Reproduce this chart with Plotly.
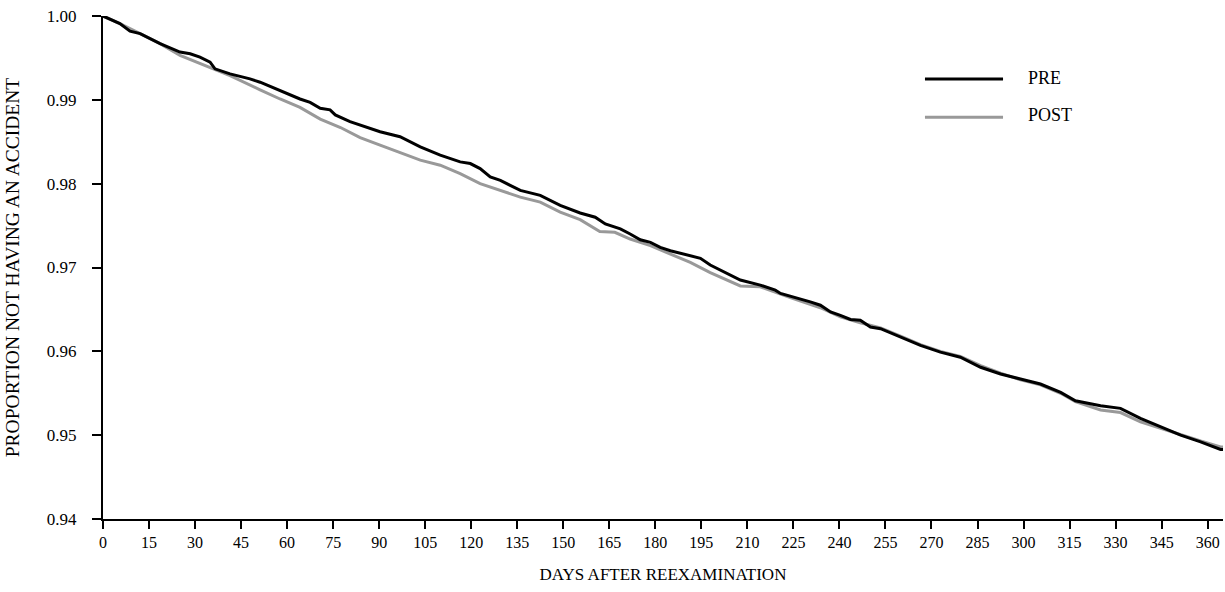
import plotly.graph_objects as go

# ---- data ----
pre_days = [0, 5.5, 8.8, 12.1, 18.6, 25.1, 28.4, 31.6, 34.9, 36.5, 41.4, 47.9, 51.2, 57.7,
            64.2, 67.5, 70.8, 74.0, 75.7, 80.5, 83.8, 87.1, 90.3, 96.8, 100.1, 103.4, 109.9,
            116.4, 119.7, 122.9, 126.2, 129.5, 132.7, 136.0, 142.5, 145.8, 149.0, 155.5,
            160.4, 163.7, 168.6, 171.8, 175.1, 178.4, 181.6, 184.9, 188.1, 194.7, 197.9,
            201.2, 207.7, 214.2, 219.1, 220.8, 224.0, 230.5, 233.8, 237.1, 240.3, 243.6,
            246.8, 250.1, 253.4, 256.6, 259.9, 266.4, 272.9, 279.4, 286.0, 292.5, 299.0,
            305.5, 312.1, 316.9, 325.1, 331.6, 338.1, 344.7, 351.2, 357.7, 364.2, 365.0]
pre_vals = [1.0000, 0.9991, 0.9982, 0.9979, 0.9967, 0.9957, 0.9955, 0.9951, 0.9945, 0.9937,
            0.9931, 0.9925, 0.9921, 0.9911, 0.9901, 0.9897, 0.9890, 0.9888, 0.9882, 0.9874,
            0.9870, 0.9866, 0.9862, 0.9856, 0.9850, 0.9844, 0.9834, 0.9826, 0.9824, 0.9818,
            0.9808, 0.9804, 0.9798, 0.9792, 0.9786, 0.9780, 0.9774, 0.9765, 0.9760, 0.9752,
            0.9746, 0.9740, 0.9733, 0.9730, 0.9724, 0.9720, 0.9717, 0.9711, 0.9703, 0.9697,
            0.9685, 0.9679, 0.9673, 0.9669, 0.9666, 0.9659, 0.9655, 0.9647, 0.9643, 0.9638,
            0.9637, 0.9629, 0.9627, 0.9622, 0.9617, 0.9607, 0.9599, 0.9593, 0.9581, 0.9573,
            0.9567, 0.9561, 0.9551, 0.9541, 0.9535, 0.9532, 0.9520, 0.9510, 0.9500, 0.9492,
            0.9483, 0.9483]

post_days = [0, 5.5, 12.1, 18.6, 25.1, 34.9, 41.4, 51.2, 57.7, 64.2, 70.8, 77.4, 83.8, 90.3,
             96.8, 103.4, 109.9, 116.4, 122.9, 129.5, 136.0, 142.5, 149.0, 155.5, 161.9,
             166.8, 171.8, 178.4, 184.9, 191.4, 197.9, 207.7, 214.2, 224.0, 233.8, 240.3,
             246.8, 253.4, 259.9, 266.4, 272.9, 279.4, 286.0, 292.5, 299.0, 305.5, 312.1,
             316.9, 325.1, 331.6, 338.1, 344.7, 351.2, 357.7, 364.2, 365.0]
post_vals = [1.0000, 0.9991, 0.9979, 0.9967, 0.9953, 0.9939, 0.9929, 0.9912, 0.9901, 0.9891,
             0.9877, 0.9867, 0.9855, 0.9846, 0.9837, 0.9828, 0.9822, 0.9812, 0.9800, 0.9792,
             0.9784, 0.9778, 0.9766, 0.9757, 0.9743, 0.9742, 0.9734, 0.9726, 0.9716, 0.9706,
             0.9694, 0.9678, 0.9677, 0.9664, 0.9652, 0.9641, 0.9634, 0.9628, 0.9618, 0.9608,
             0.9600, 0.9594, 0.9583, 0.9574, 0.9566, 0.9560, 0.9550, 0.9540, 0.9530, 0.9527,
             0.9516, 0.9508, 0.9500, 0.9493, 0.9486, 0.9486]

series_names = ["PRE", "POST"]
series_colors = ["#000000", "#999999"]
x_tick_vals = list(range(0, 361, 15))
y_tick_vals = [0.94, 0.95, 0.96, 0.97, 0.98, 0.99, 1.00]

FONT = "Liberation Serif, Times New Roman, serif"

fig = go.Figure()
fig.add_trace(go.Scatter(x=post_days, y=post_vals, mode="lines", name=series_names[1],
                         line=dict(color=series_colors[1], width=3), cliponaxis=False,
                         showlegend=False))
fig.add_trace(go.Scatter(x=pre_days, y=pre_vals, mode="lines", name=series_names[0],
                         line=dict(color=series_colors[0], width=3), cliponaxis=False,
                         showlegend=False))

# legend drawn as line samples + labels
legend_rows = [(0.8748, 0.8767), (0.7986, 0.8022)]
for name, color, (ly, ty) in zip(series_names, series_colors, legend_rows):
    fig.add_shape(type="line", xref="paper", yref="paper", x0=0.7339, x1=0.8036,
                  y0=ly, y1=ly, line=dict(color=color, width=3))
    fig.add_annotation(xref="paper", yref="paper", x=0.8241, y=ty, text=name,
                       showarrow=False, xanchor="left", yanchor="middle",
                       font=dict(family=FONT, size=18, color="#000000"))

fig.update_layout(
    width=1225, height=592,
    margin=dict(l=103, r=2, t=16, b=73),
    paper_bgcolor="white", plot_bgcolor="white",
    font=dict(family=FONT, color="#000000"),
    showlegend=False,
    xaxis=dict(range=[0, 365], tickvals=x_tick_vals, ticks="outside", ticklen=8,
               tickwidth=2, tickcolor="black", showline=True, linecolor="black",
               linewidth=2, showgrid=False, zeroline=False,
               tickfont=dict(family=FONT, size=16),
               title=dict(text="DAYS AFTER REEXAMINATION", standoff=18,
                          font=dict(family=FONT, size=17)),
               automargin=False),
    yaxis=dict(range=[0.94, 1.0], tickvals=y_tick_vals, tickformat=".2f", ticks="outside",
               ticklen=9, tickwidth=2, tickcolor="black", showline=True, linecolor="black",
               linewidth=2, showgrid=False, zeroline=False, ticklabelstandoff=12,
               tickfont=dict(family=FONT, size=17),
               title=dict(text="PROPORTION NOT HAVING AN ACCIDENT", standoff=22,
                          font=dict(family=FONT, size=19.5)),
               automargin=False),
)

fig.write_html("out.html", config={"displayModeBar": False},
               post_script="document.body.style.margin='0';document.body.style.overflow='hidden';")
